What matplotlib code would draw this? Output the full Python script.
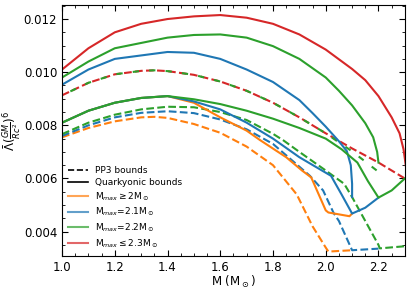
import matplotlib
matplotlib.use('Agg')
import matplotlib.pyplot as plt
from matplotlib.lines import Line2D
from matplotlib.ticker import MultipleLocator

# PP3 bounds (dashed)
m_pp3_or = [1.0, 1.1, 1.2, 1.3, 1.35, 1.4, 1.5, 1.6, 1.7, 1.8, 1.89, 1.95, 2.0, 2.01, 2.1]
l_pp3_or = [0.00755, 0.0079, 0.00815, 0.0083, 0.00832, 0.00828, 0.00805, 0.00772, 0.0072, 0.0065, 0.0054, 0.0042, 0.0034, 0.00325, 0.0033]

m_pp3_bl = [1.0, 1.1, 1.2, 1.3, 1.4, 1.5, 1.6, 1.7, 1.8, 1.94, 1.99, 2.03, 2.05, 2.1, 2.2]
l_pp3_bl = [0.0076, 0.008, 0.0083, 0.00847, 0.00853, 0.00846, 0.00822, 0.00785, 0.0073, 0.0061, 0.00555, 0.0047, 0.0044, 0.0033, 0.00336]

m_pp3_gr = [1.0, 1.1, 1.2, 1.3, 1.4, 1.5, 1.6, 1.7, 1.8, 1.84, 1.9, 2.0, 2.07, 2.1, 2.15, 2.2, 2.205, 2.3]
l_pp3_gr = [0.00767, 0.0081, 0.0084, 0.0086, 0.0087, 0.00868, 0.0085, 0.0082, 0.00768, 0.00743, 0.007, 0.0063, 0.0058, 0.0053, 0.0044, 0.0035, 0.00337, 0.00345]

m_pp3_gr_up = [1.0, 1.1, 1.2, 1.3, 1.35, 1.4, 1.5, 1.6, 1.7, 1.8, 1.9, 2.0, 2.1, 2.2]
l_pp3_gr_up = [0.00913, 0.0096, 0.00992, 0.01005, 0.01007, 0.01004, 0.0099, 0.00965, 0.0093, 0.00885, 0.0083, 0.0077, 0.00702, 0.00625]

m_pp3_rd = [1.0, 1.1, 1.2, 1.3, 1.35, 1.4, 1.5, 1.6, 1.7, 1.8, 1.9, 2.0, 2.1, 2.2, 2.3]
l_pp3_rd = [0.00913, 0.0096, 0.00992, 0.01005, 0.01007, 0.01004, 0.0099, 0.00965, 0.0093, 0.00885, 0.0083, 0.0077, 0.00713, 0.0066, 0.006]

# Quarkyonic bounds (solid)
m_qk_or = [1.0, 1.1, 1.2, 1.3, 1.4, 1.5, 1.6, 1.7, 1.75, 1.85, 1.91, 1.945, 2.0, 2.01, 2.09, 2.1]
l_qk_or = [0.0081, 0.00855, 0.00885, 0.00903, 0.0091, 0.00885, 0.0083, 0.0078, 0.00745, 0.0068, 0.0063, 0.00604, 0.0048, 0.00472, 0.00458, 0.00468]

m_qk_bl = [1.0, 1.1, 1.2, 1.3, 1.4, 1.5, 1.6, 1.7, 1.8, 1.9, 2.02, 2.06, 2.1, 2.15, 2.2]
l_qk_bl = [0.0081, 0.00855, 0.00885, 0.00903, 0.0091, 0.0089, 0.0086, 0.0081, 0.0075, 0.0068, 0.0061, 0.0054, 0.00468, 0.0049, 0.00528]

m_qk_gr = [1.0, 1.1, 1.2, 1.3, 1.4, 1.5, 1.6, 1.7, 1.8, 1.9, 2.0, 2.06, 2.12, 2.16, 2.2, 2.25, 2.3]
l_qk_gr = [0.0081, 0.00855, 0.00885, 0.00903, 0.0091, 0.00898, 0.0088, 0.00855, 0.00825, 0.0079, 0.0075, 0.0071, 0.0066, 0.0059, 0.00528, 0.00555, 0.006]

m_qk_bl_up = [1.0, 1.1, 1.2, 1.3, 1.4, 1.5, 1.6, 1.7, 1.8, 1.9, 1.95, 2.0, 2.05, 2.08, 2.095, 2.1, 2.1]
l_qk_bl_up = [0.00953, 0.0101, 0.0105, 0.01063, 0.01076, 0.01073, 0.0105, 0.0101, 0.00963, 0.00895, 0.00846, 0.00795, 0.0074, 0.00703, 0.0065, 0.0058, 0.0053]

m_qk_gr_up = [1.0, 1.1, 1.2, 1.3, 1.4, 1.5, 1.6, 1.7, 1.8, 1.9, 2.0, 2.05, 2.1, 2.15, 2.18, 2.195, 2.2]
l_qk_gr_up = [0.0098, 0.0104, 0.0109, 0.0111, 0.0113, 0.0114, 0.01142, 0.0113, 0.01098, 0.0105, 0.0098, 0.0093, 0.00875, 0.00808, 0.00755, 0.007, 0.0066]

m_qk_rd = [1.0, 1.1, 1.2, 1.3, 1.4, 1.5, 1.6, 1.7, 1.8, 1.9, 2.0, 2.1, 2.15, 2.2, 2.25, 2.28, 2.295, 2.305]
l_qk_rd = [0.0101, 0.0109, 0.0115, 0.01182, 0.012, 0.0121, 0.01215, 0.01205, 0.01182, 0.01142, 0.01085, 0.01012, 0.0097, 0.0091, 0.0083, 0.0077, 0.0071, 0.0064]

c_or, c_bl, c_gr, c_rd = '#ff7f0e', '#1f77b4', '#2ca02c', '#d62728'

fig = plt.figure(figsize=(4.11, 2.91), dpi=100)
ax = fig.add_axes([0.151, 0.12, 0.834, 0.863])
lw = 1.5

ax.plot(m_pp3_or, l_pp3_or, '--', color=c_or, lw=lw)
ax.plot(m_pp3_bl, l_pp3_bl, '--', color=c_bl, lw=lw)
ax.plot(m_pp3_gr, l_pp3_gr, '--', color=c_gr, lw=lw)
ax.plot(m_pp3_rd, l_pp3_rd, '--', color=c_rd, lw=lw)
ax.plot(m_pp3_gr_up, l_pp3_gr_up, color=c_gr, lw=lw, linestyle=(3.5, (3.0, 4.9)))

ax.plot(m_qk_or, l_qk_or, '-', color=c_or, lw=lw)
ax.plot(m_qk_bl, l_qk_bl, '-', color=c_bl, lw=lw)
ax.plot(m_qk_bl_up, l_qk_bl_up, '-', color=c_bl, lw=lw)
ax.plot(m_qk_gr, l_qk_gr, '-', color=c_gr, lw=lw)
ax.plot(m_qk_gr_up, l_qk_gr_up, '-', color=c_gr, lw=lw)
ax.plot(m_qk_rd, l_qk_rd, '-', color=c_rd, lw=lw)

ax.set_xlim(1.0, 2.3)
ax.set_ylim(0.00308, 0.01253)
ax.xaxis.set_major_locator(MultipleLocator(0.2))
ax.xaxis.set_minor_locator(MultipleLocator(0.05))
ax.yaxis.set_major_locator(MultipleLocator(0.002))
ax.yaxis.set_minor_locator(MultipleLocator(0.0005))
ax.tick_params(which='both', direction='in', top=True, right=True, labelsize=8.5)
ax.tick_params(which='major', length=4)
ax.tick_params(which='minor', length=2)

ax.set_xlabel(r'M (M$_\odot$)', fontsize=8.5)
ax.xaxis.set_label_coords(0.5, -0.072, transform=ax.transAxes)
ax.xaxis.label.set_va('top')
ax.set_ylabel(r'$\bar{\Lambda}(\frac{GM}{Rc^2})^6$', fontsize=8.5)
ax.yaxis.set_label_coords(-0.112, 0.5)

handles = [
    Line2D([], [], color='k', ls='--', lw=1.2),
    Line2D([], [], color='k', ls='-', lw=1.2),
    Line2D([], [], color=c_or, lw=1.5, alpha=0.7),
    Line2D([], [], color=c_bl, lw=1.5, alpha=0.7),
    Line2D([], [], color=c_gr, lw=1.5, alpha=0.7),
    Line2D([], [], color=c_rd, lw=1.5, alpha=0.7),
]
labels = ['PP3 bounds', 'Quarkyonic bounds',
          r'M$_{max}\geq$2M$_\odot$', r'M$_{max}$=2.1M$_\odot$',
          r'M$_{max}$=2.2M$_\odot$', r'M$_{max}\leq$2.3M$_\odot$']
ax.legend(handles, labels, loc='lower left', frameon=False, fontsize=6.5,
          handlelength=2.2, labelspacing=0.35, borderaxespad=0.3)

fig.savefig('out.png', dpi=100)
